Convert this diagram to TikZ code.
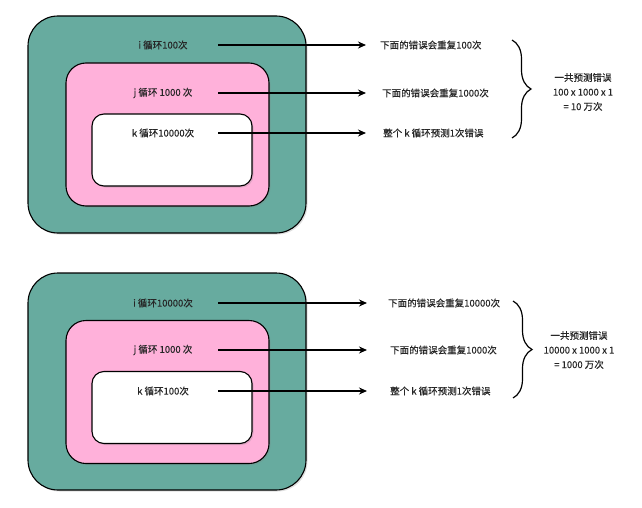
\documentclass[tikz,border=0pt]{standalone}
\usepackage{fontspec}
\setmainfont[FakeBold=0.3]{Noto Sans CJK SC}
\usetikzlibrary{arrows.meta,shadows,decorations.pathreplacing}
\definecolor{loopgreen}{HTML}{67AB9F}
\definecolor{looppink}{HTML}{FFB1DA}

\begin{document}
\begin{tikzpicture}[x=1pt, y=-1pt,
  loopbox/.style  = {draw, line width=1.1pt, inner sep=0pt,
                     drop shadow={shadow xshift=1.5pt, shadow yshift=-1.5pt, opacity=0.25}},
  outerbox/.style = {loopbox, fill=loopgreen, rounded corners=30pt,
                     minimum width=278pt, minimum height=217pt},
  midbox/.style   = {loopbox, fill=looppink, rounded corners=20pt,
                     minimum width=203pt, minimum height=143pt},
  innerbox/.style = {loopbox, fill=white, rounded corners=12pt,
                     minimum width=160pt, minimum height=72pt},
  lbl/.style      = {font=\fontsize{9.5}{14.5}\selectfont, inner sep=1pt, text=black!85},
  looplbl/.style  = {lbl, minimum width=110pt},
  notelbl/.style  = {lbl, anchor=west},
  sumlbl/.style   = {lbl, align=center},
  arrow/.style    = {line width=1.3pt, -{Stealth[length=8pt,width=7pt]}},
  brace/.style    = {line width=1.2pt, decorate, decoration={brace, amplitude=19pt}},
]
  \useasboundingbox (0,0) rectangle (642,508);

  % first ordering: i small, k large
  \node[outerbox] (out1) at (167,124.5) {};
  \node[midbox]   (mid1) at (167.5,134.5) {};
  \node[innerbox] (in1)  at (172,150) {};

  \node[looplbl] (i1) at (163,45) {i 循环100次};
  \node[looplbl] (j1) at (163,93) {j 循环 1000 次};
  \node[looplbl] (k1) at (163,133) {k 循环10000次};

  \node[notelbl, inner xsep=14pt] (ri1) at (366,45) {下面的错误会重复100次};
  \node[notelbl, inner xsep=16pt] (rj1) at (366,93) {下面的错误会重复1000次};
  \node[notelbl, inner xsep=17pt] (rk1) at (366,133) {整个 k 循环预测1次错误};

  \draw[arrow] (i1.east) -- (ri1.west);
  \draw[arrow] (j1.east) -- (rj1.west);
  \draw[arrow] (k1.east) -- (rk1.west);

  \coordinate (top1) at (512,40);
  \coordinate (bot1) at (512,138);
  \draw[brace] (top1) -- (bot1);
  \node[sumlbl] (sum1) at (583,92) {一共预测错误\\100 x 1000 x 1\\= 10 万次};

  % second ordering: i large, k small
  \node[outerbox] (out2) at (167,381.5) {};
  \node[midbox]   (mid2) at (167.5,392) {};
  \node[innerbox] (in2)  at (172,407.5) {};

  \node[looplbl] (i2) at (163,303) {i 循环10000次};
  \node[looplbl] (j2) at (163,350) {j 循环 1000 次};
  \node[looplbl] (k2) at (163,391) {k 循环100次};

  \node[notelbl, inner xsep=21pt] (ri2) at (367,303) {下面的错误会重复10000次};
  \node[notelbl, inner xsep=23pt] (rj2) at (367,350) {下面的错误会重复1000次};
  \node[notelbl, inner xsep=23pt] (rk2) at (367,391) {整个 k 循环预测1次错误};

  \draw[arrow] (i2.east) -- (ri2.west);
  \draw[arrow] (j2.east) -- (rj2.west);
  \draw[arrow] (k2.east) -- (rk2.west);

  \coordinate (top2) at (513,301);
  \coordinate (bot2) at (513,398);
  \draw[brace] (top2) -- (bot2);
  \node[sumlbl] (sum2) at (579,350) {一共预测错误\\10000 x 1000 x 1\\= 1000 万次};
\end{tikzpicture}
\end{document}
